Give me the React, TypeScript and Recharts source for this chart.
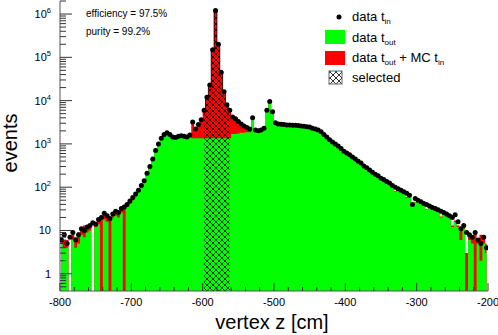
import React from 'react';
import { ComposedChart, Area, Line, XAxis, YAxis } from 'recharts';

// 4 cm bins from -800 to -200, values at bin centres
const binCenters = Array.from({ length: 150 }, (_, i) => -798 + 4 * i);

// black points: data t_in
const dataIn = [
  6, 8, 5, 7, 9, 6, 8, 11, 10, 12,
  13, 15, 14, 18, 20, 25, 22, 19, 24, 28,
  26, 32, 35, 40, 48, 58, 70, 85, 110, 140,
  210, 300, 450, 700, 1000, 1350, 1650, 1800, 1650, 1450,
  1400, 1500, 1550, 1500, 1450, 1600, 3200, 2200, 2800, 3600,
  6000, 12000, 23000, 150000, 1200000, 200000, 45000, 16000, 8000, 6000,
  4200, 3800, 3300, 2900, 2600, 2400, 2200, 4000, 2100, 2000,
  2100, 2300, 6000, 9500, 5500, 3100, 2900, 2850, 2800, 2750,
  2750, 2700, 2700, 2650, 2600, 2550, 2500, 2450, 2300, 2200,
  2100, 1900, 1650, 1450, 1250, 1100, 1000, 900, 780, 680,
  620, 560, 500, 450, 400, 360, 310, 280, 250, 220,
  200, 185, 160, 150, 135, 125, 110, 100, 92, 85,
  78, 72, 65, 40, 55, 50, 46, 42, 40, 37,
  34, 32, 30, 28, 26, 24, 22, 20, 23, 16,
  11, 13, 9, 8, 7, 9, 6, 5, 7, 4,
];

// green: data t_out
const dataOut = [
  5, 4, 4, 0.4, 6, 4, 5, 8, 7, 9,
  10, 0.4, 12, 14, 0.4, 18, 16, 0.4, 20, 22,
  20, 26, 0.4, 35, 42, 50, 62, 78, 100, 130,
  200, 290, 430, 670, 960, 1300, 1580, 1720, 1580, 1390,
  1330, 1430, 1480, 1430, 1380, 1400, 1350, 1350, 1350, 1350,
  1350, 1350, 1350, 1350, 1350, 1350, 1350, 1350, 1350, 1350,
  1700, 1700, 1750, 1800, 1800, 1850, 1850, 4000, 1950, 1950,
  2050, 2250, 6000, 9500, 5500, 3050, 2850, 2800, 2750, 2700,
  2700, 2650, 2650, 2600, 2550, 2500, 2450, 2400, 2250, 2150,
  2050, 1850, 1600, 1400, 1200, 1050, 950, 860, 740, 650,
  590, 530, 470, 420, 380, 340, 290, 260, 230, 200,
  180, 170, 150, 130, 125, 115, 100, 80, 85, 78,
  72, 58, 60, 37, 45, 46, 42, 38, 30, 34,
  30, 28, 27, 20, 24, 21, 20, 12, 16, 12,
  6, 11, 0.4, 6, 5, 0.4, 5, 2, 5, 3,
];

// red: data t_out + MC t_in
const outPlusMc = [
  7, 6, 6, 0.4, 8, 7, 9, 10, 13, 11,
  14, 0.4, 16, 19, 18, 24, 23, 20, 25, 27,
  27, 33, 36, 42, 48, 60, 72, 88, 112, 142,
  210, 300, 450, 700, 1000, 1350, 1650, 1800, 1650, 1450,
  1400, 1500, 1550, 1500, 1450, 1600, 3200, 2200, 2800, 3600,
  6000, 12000, 23000, 150000, 1200000, 200000, 45000, 16000, 8000, 6000,
  4200, 3800, 3300, 2900, 2600, 2400, 2200, 4000, 2100, 2000,
  2100, 2300, 6000, 9500, 5500, 3100, 2900, 2850, 2800, 2750,
  2750, 2700, 2700, 2650, 2600, 2550, 2500, 2450, 2300, 2200,
  2100, 1900, 1650, 1450, 1250, 1100, 1000, 900, 780, 680,
  620, 560, 500, 450, 400, 360, 310, 280, 250, 220,
  185, 172, 152, 132, 127, 118, 102, 82, 87, 80,
  74, 60, 62, 38, 46, 48, 44, 40, 31, 35,
  31, 29, 28, 21, 25, 22, 21, 13, 17, 13,
  11, 13, 3, 8, 7, 9, 6, 8, 7, 5,
];

// first and last bin centre of the selected window
const selectedBins = [-598, -562];

const xMajorTicks = [-800, -700, -600, -500, -400, -300, -200];
const yMajorTicks = [1, 10, 100, 1000, 10000, 100000, 1000000];

const xTicks: number[] = [];
xMajorTicks.forEach((t, i) => {
  for (let k = 0; k < 5 && (i < xMajorTicks.length - 1 || k === 0); k++) xTicks.push(t + 20 * k);
});
const yTicks: number[] = [0.5, 0.6, 0.7, 0.8, 0.9];
yMajorTicks.forEach((t) => {
  for (let k = 1; k <= 9; k++) if (t * k <= 2e6) yTicks.push(t * k);
});

const chartData = binCenters.map((z, i) => ({
  z,
  dataIn: dataIn[i],
  dataOut: dataOut[i],
  outPlusMc: outPlusMc[i],
  selected: z >= selectedBins[0] && z <= selectedBins[1] ? outPlusMc[i] : null,
}));

const FONT = "'Liberation Sans', Arial, Helvetica, sans-serif";

const XTick = (props: any) => {
  const { x, y, payload } = props;
  const major = xMajorTicks.includes(payload.value);
  return (
    <g>
      <line x1={x} x2={x} y1={y} y2={y - (major ? 8 : 4)} stroke="#333" />
      {major && (
        <text x={x} y={y + 15} textAnchor="middle" fontSize={11} fill="#000">
          {payload.value}
        </text>
      )}
    </g>
  );
};

const YTick = (props: any) => {
  const { x, y, payload } = props;
  const v = payload.value;
  const major = yMajorTicks.includes(v);
  const exp = Math.round(Math.log10(v));
  return (
    <g>
      <line x1={x} x2={x + (major ? 12 : 6)} y1={y} y2={y} stroke="#333" />
      {major && (
        <text x={x - 9} y={y + 4} textAnchor="end" fontSize={11} fill="#000">
          {exp <= 1 ? String(v) : (
            <>
              <tspan>10</tspan>
              <tspan dy={-5} fontSize={7.5}>{exp}</tspan>
            </>
          )}
        </text>
      )}
    </g>
  );
};

const XTitle = (props: any) => {
  const { viewBox } = props;
  const cx = viewBox.x + viewBox.width / 2 - 2;
  return (
    <text x={cx} y={329} textAnchor="middle" fontSize={20} fill="#000">
      vertex z [cm]
    </text>
  );
};

const YTitle = (props: any) => {
  const { viewBox } = props;
  const cy = viewBox.y + viewBox.height / 2 - 3;
  return (
    <text x={17} y={cy} transform={`rotate(-90, 17, ${cy})`} textAnchor="middle" fontSize={20} fill="#000">
      events
    </text>
  );
};

const Hatch = ({ id }: { id: string }) => (
  <pattern id={id} patternUnits="userSpaceOnUse" width={6} height={6}>
    <path d="M0,0 L6,6 M6,0 L0,6" stroke="#000" strokeWidth={0.8} />
  </pattern>
);

export default function App() {
  return (
    <div style={{ position: 'absolute', left: 0, top: 0, width: 498, height: 335, fontFamily: FONT, background: '#fff' }}>
      <ComposedChart
        width={498}
        height={335}
        data={chartData}
        margin={{ top: 1, right: 10, left: 0, bottom: 0 }}
      >
        <defs>
          <Hatch id="hatchFill" />
        </defs>
        <XAxis
          dataKey="z"
          type="number"
          domain={[-800, -200]}
          allowDataOverflow
          ticks={xTicks}
          interval={0}
          tick={<XTick />}
          tickLine={false}
          tickSize={0}
          tickMargin={0}
          axisLine={{ stroke: '#555' }}
          height={44}
          label={<XTitle />}
        />
        <XAxis xAxisId="top" orientation="top" type="number" domain={[-800, -200]} height={0} tick={false} tickLine={false} axisLine={{ stroke: '#000' }} />
        <YAxis
          scale="log"
          type="number"
          domain={[0.4, 2e6]}
          allowDataOverflow
          ticks={yTicks}
          interval={0}
          tick={<YTick />}
          tickLine={false}
          tickSize={0}
          tickMargin={0}
          axisLine={{ stroke: '#555' }}
          width={60}
          label={<YTitle />}
        />
        <YAxis yAxisId="right" orientation="right" width={0} tick={false} tickLine={false} axisLine={{ stroke: '#777', strokeWidth: 2 }} />
        <Area dataKey="outPlusMc" type="step" baseValue={0.4} stroke="none" fill="#ff0000" fillOpacity={1} isAnimationActive={false} />
        <Area dataKey="dataOut" type="step" baseValue={0.4} stroke="none" fill="#00ff00" fillOpacity={1} isAnimationActive={false} />
        <Area dataKey="selected" type="step" baseValue={0.4} stroke="#000" strokeWidth={0.8} fill="url(#hatchFill)" fillOpacity={1} isAnimationActive={false} />
        <Line dataKey="dataIn" stroke="none" dot={{ r: 2.5, fill: '#000', stroke: 'none' }} activeDot={false} isAnimationActive={false} />
      </ComposedChart>
      <svg width={498} height={335} style={{ position: 'absolute', left: 0, top: 0, pointerEvents: 'none' }} fontFamily={FONT}>
        <defs>
          <Hatch id="hatchLegend" />
        </defs>
        <text x={86} y={17} fontSize={10}>efficiency = 97.5%</text>
        <text x={86} y={35} fontSize={10}>purity = 99.2%</text>
        <circle cx={339} cy={17} r={2.5} fill="#000" />
        <text x={352} y={21} fontSize={13}>
          data t<tspan dy={3} fontSize={8}>in</tspan>
        </text>
        <rect x={325} y={30} width={20} height={14} fill="#00ff00" />
        <text x={352} y={42} fontSize={13}>
          data t<tspan dy={3} fontSize={8}>out</tspan>
        </text>
        <rect x={325} y={51} width={20} height={14} fill="#ff0000" />
        <text x={352} y={62} fontSize={13}>
          data t<tspan dy={3} fontSize={8}>out</tspan>
          <tspan dy={-3} fontSize={13}>{' + MC t'}</tspan>
          <tspan dy={3} fontSize={8}>in</tspan>
        </text>
        <rect x={329} y={71} width={13} height={13} fill="url(#hatchLegend)" stroke="#666" strokeWidth={1} />
        <text x={352} y={82} fontSize={13}>selected</text>
      </svg>
    </div>
  );
}
